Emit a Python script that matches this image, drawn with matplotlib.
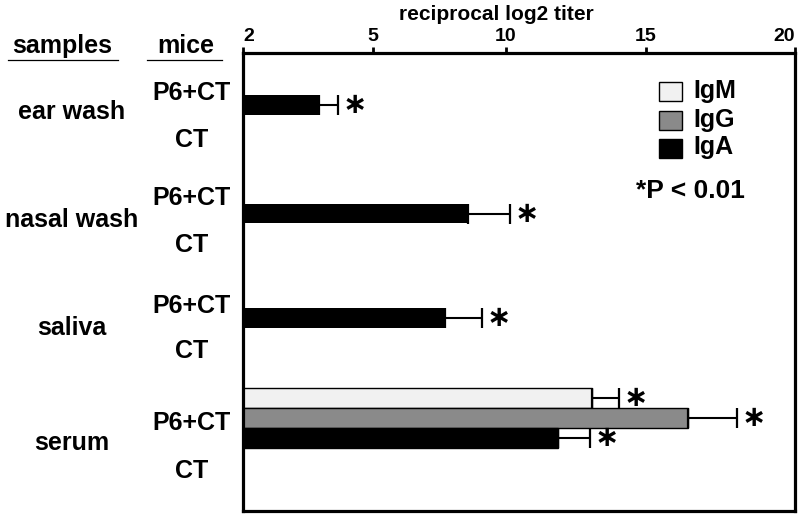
import numpy as np
import matplotlib
matplotlib.use("Agg")
import matplotlib.pyplot as plt
import matplotlib.transforms as mtransforms
from matplotlib.patches import Rectangle

plt.rcParams['font.family'] = ['Liberation Sans', 'DejaVu Sans']
plt.rcParams['font.weight'] = 'bold'

# values (reciprocal log2 titer, P6+CT mice)
samples = ["ear wash", "nasal wash", "saliva", "serum"]
iga_mean = [3.75, 8.57, 7.71, 11.86]
iga_err = [0.44, 1.57, 1.39, 1.14]
igm_serum, igm_serum_err = 13.07, 0.97
igg_serum, igg_serum_err = 16.41, 1.64
tick_vals = [2, 5, 10, 15, 20]

# the printed axis is not linear: ticks sit almost evenly spaced
tick_px = [0, 130, 263, 403, 552]


def fwd(x):
    return np.interp(x, tick_vals, tick_px)


def inv(p):
    return np.interp(p, tick_px, tick_vals)


fig = plt.figure(figsize=(8, 5.18), dpi=100)
ax = fig.add_axes([243 / 800, 7 / 518, 552 / 800, 458 / 518])
ax.set_xscale('function', functions=(fwd, inv))
ax.set_xlim(2, 20)
ax.set_ylim(3.894, -0.5)

group_y = np.array([0, 1.04, 2.04, 3.0])
bh = 0.19
ekw = dict(fmt='none', ecolor='black', elinewidth=1.5, capsize=7, capthick=1.6)


def star(x, y):
    ax.annotate('∗', (x, y), xytext=(12, 0), textcoords='offset points',
                ha='center', va='center', fontsize=21, family='DejaVu Sans',
                fontweight='bold')


# IgA bars for the mucosal samples
for i in range(3):
    y = group_y[i]
    ax.barh(y, iga_mean[i] - 2, left=2, height=bh, color='black')
    ax.errorbar(iga_mean[i], y, xerr=[[0], [iga_err[i]]], **ekw)
    star(iga_mean[i] + iga_err[i], y)

# serum: IgM, IgG, IgA
ys = group_y[3]
serum = [(igm_serum, igm_serum_err, '#f1f1f1', ys - bh),
         (igg_serum, igg_serum_err, '#8a8a8a', ys),
         (iga_mean[3], iga_err[3], 'black', ys + bh)]
for val, err, col, y in serum:
    ax.barh(y, val - 2, left=2, height=bh, color=col, edgecolor='black',
            linewidth=1)
    ax.errorbar(val, y, xerr=[[0], [err]], **ekw)
    star(val + err, y)

# axis styling
for s in ax.spines.values():
    s.set_linewidth(2.3)
ax.set_yticks([])
ax.xaxis.tick_top()
ax.set_xticks(tick_vals)
ax.set_xticklabels([str(v) for v in tick_vals], fontsize=14, fontweight='bold')
ax.tick_params(axis='x', direction='out', length=4, width=2, pad=2)
ax.get_xticklabels()[-1].set_horizontalalignment('right')
ax.get_xticklabels()[0].set_horizontalalignment('left')
fig.text(496 / 800, 1 - 15 / 518, 'reciprocal log2 titer', ha='center',
         va='center', fontsize=15, fontweight='bold')

# left-hand labels
trans = mtransforms.blended_transform_factory(fig.transFigure, ax.transData)
sample_y = [0.067, 1.106, 2.135, 3.24]
p6_y = [-0.115, 0.894, 1.923, 3.048]
ct_y = [0.337, 1.346, 2.356, 3.51]
for i, name in enumerate(samples):
    ax.text(72 / 800, sample_y[i], name, transform=trans, ha='center',
            va='center', fontsize=18, fontweight='bold', clip_on=False)
    ax.text(192 / 800, p6_y[i], 'P6+CT', transform=trans, ha='center',
            va='center', fontsize=18, fontweight='bold', clip_on=False)
    ax.text(192 / 800, ct_y[i], 'CT', transform=trans, ha='center',
            va='center', fontsize=18, fontweight='bold', clip_on=False)

fig.text(62 / 800, 1 - 46 / 518, 'samples', ha='center', va='center',
         fontsize=18, fontweight='bold')
fig.text(186 / 800, 1 - 46 / 518, 'mice', ha='center', va='center',
         fontsize=18, fontweight='bold')
fig.add_artist(plt.Line2D([8 / 800, 118 / 800], [1 - 60 / 518] * 2,
                          color='black', lw=0.9))
fig.add_artist(plt.Line2D([147 / 800, 222 / 800], [1 - 60 / 518] * 2,
                          color='black', lw=0.9))

# legend drawn by hand, like the original (axes fractions)
leg = [('IgM', '#f1f1f1', 0.895, 0.916),
       ('IgG', '#8a8a8a', 0.832, 0.853),
       ('IgA', 'black', 0.770, 0.794)]
for lab, col, yb, yt in leg:
    ax.add_patch(Rectangle((0.754, yb), 0.0417, 0.042, transform=ax.transAxes,
                           facecolor=col, edgecolor='black', lw=1))
    ax.text(0.815, yt, lab, transform=ax.transAxes, ha='left', va='center',
            fontsize=18, fontweight='bold')
ax.text(0.81, 0.699, '*P < 0.01', transform=ax.transAxes, ha='center',
        va='center', fontsize=19, fontweight='bold')

fig.savefig('out.png', dpi=100)
